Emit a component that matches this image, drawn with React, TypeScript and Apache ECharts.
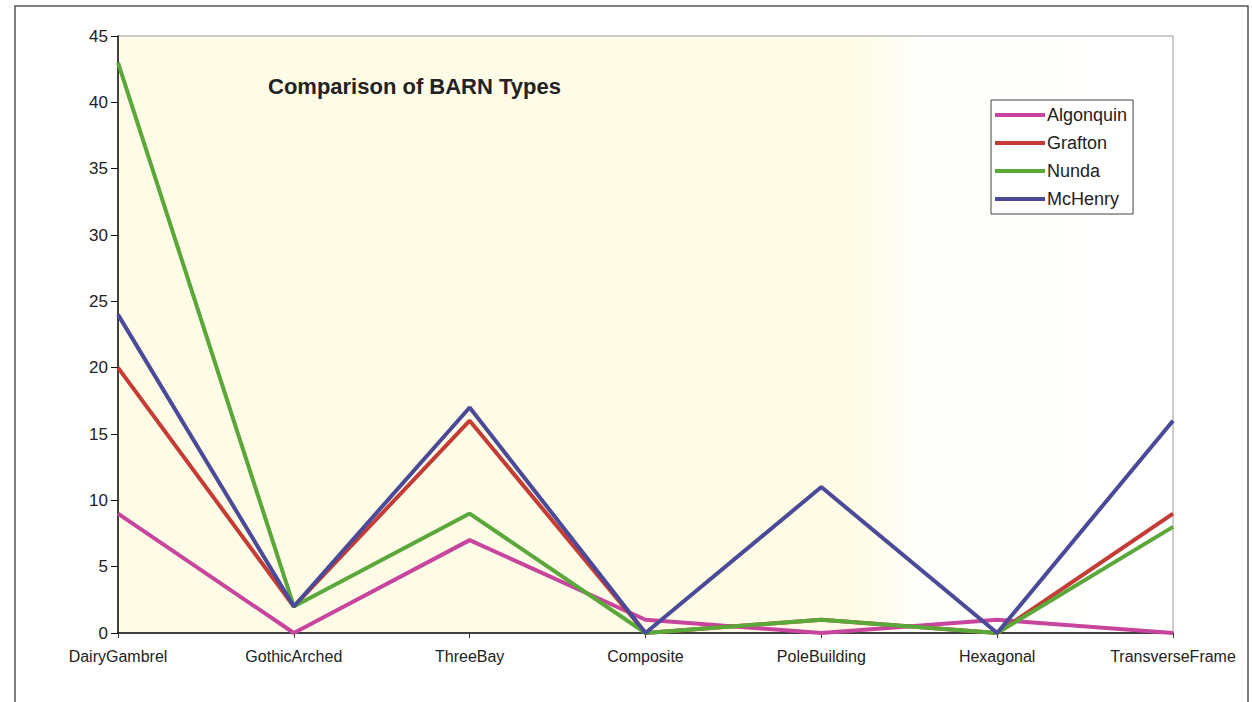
import React, { useEffect, useRef } from "react";
import * as echarts from "echarts";

const categories = ["DairyGambrel", "GothicArched", "ThreeBay", "Composite", "PoleBuilding", "Hexagonal", "TransverseFrame"];
const algonquin = [9, 0, 7, 1, 0, 1, 0];
const grafton = [20, 2, 16, 0, 1, 0, 9];
const nunda = [43, 2, 9, 0, 1, 0, 8];
const mchenry = [24, 2, 17, 0, 11, 0, 16];
const seriesNames = ["Algonquin", "Grafton", "Nunda", "McHenry"];
const seriesColors = ["#c8459e", "#c43c35", "#5aa83a", "#4a4a98"];
const yTicks = { min: 0, max: 45, interval: 5 };

export default function App() {
  const ref = useRef<HTMLDivElement>(null);
  useEffect(() => {
    if (!ref.current) return;
    const chart = echarts.init(ref.current, null, { renderer: "svg" });
    const data = [algonquin, grafton, nunda, mchenry];
    chart.setOption({
      animation: false,
      backgroundColor: "#ffffff",
      textStyle: { fontFamily: "Liberation Sans, Arial, sans-serif" },
      title: {
        text: "Comparison of BARN Types",
        left: 263,
        top: 70,
        textStyle: { fontSize: 22, fontWeight: "bold", color: "#222", fontFamily: "Liberation Sans, Arial, sans-serif" },
      },
      graphic: [
        {
          type: "rect",
          shape: { x: 15, y: 6, width: 1233, height: 710 },
          style: { fill: "none", stroke: "#555", lineWidth: 1.5 },
          silent: true,
        },
      ],
      legend: {
        orient: "vertical",
        left: 991,
        top: 100,
        data: seriesNames,
        icon: "rect",
        itemWidth: 50,
        itemHeight: 4,
        itemGap: 10,
        padding: [6, 6, 6, 4],
        borderColor: "#444",
        borderWidth: 1,
        backgroundColor: "#fff",
        textStyle: { fontSize: 18, color: "#222", padding: [0, 0, 0, -3] },
      },
      grid: {
        left: 118,
        right: 79,
        top: 36,
        bottom: 69,
        show: true,
        borderColor: "#999",
        borderWidth: 1,
        backgroundColor: new echarts.graphic.LinearGradient(0, 0, 1, 0, [
          { offset: 0, color: "#fefce6" },
          { offset: 0.7, color: "#fefce6" },
          { offset: 0.76, color: "#fefefb" },
          { offset: 1, color: "#ffffff" },
        ]),
      },
      xAxis: {
        type: "category",
        data: categories,
        boundaryGap: false,
        axisLine: { lineStyle: { color: "#111", width: 1.5 } },
        axisTick: { show: true, inside: false, length: 5, lineStyle: { color: "#333" } },
        axisLabel: { fontSize: 16, color: "#222", margin: 15 },
        splitLine: { show: false },
      },
      yAxis: {
        type: "value",
        min: yTicks.min,
        max: yTicks.max,
        interval: yTicks.interval,
        axisLine: { show: true, lineStyle: { color: "#111", width: 1.5 } },
        axisTick: { show: true, length: 7, lineStyle: { color: "#111" } },
        axisLabel: { fontSize: 17, color: "#222", margin: 10 },
        splitLine: { show: false },
      },
      series: seriesNames.map((name, i) => ({
        name,
        type: "line",
        data: data[i],
        symbol: "none",
        lineStyle: { width: 4, color: seriesColors[i] },
        itemStyle: { color: seriesColors[i] },
      })),
    });
    return () => chart.dispose();
  }, []);
  return <div ref={ref} style={{ position: "fixed", left: 0, top: 0, width: 1252, height: 702 }} />;
}
